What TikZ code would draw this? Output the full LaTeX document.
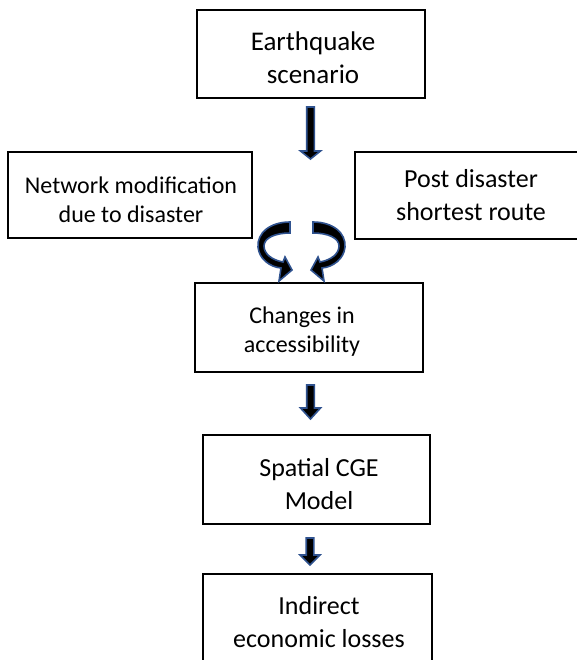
\documentclass[tikz,border=0pt]{standalone}
\usepackage{fontspec}
\setmainfont{Carlito}
\usetikzlibrary{calc}
\definecolor{arrblue}{RGB}{47,82,143}
\tikzset{
 box/.style={draw=black, line width=2.2pt, fill=white, inner sep=0pt, outer sep=0pt},
 big/.style={font=\fontsize{26}{33}\selectfont, align=center, inner sep=0pt},
 small/.style={font=\fontsize{24}{29}\selectfont, align=center, inner sep=0pt},
 barrow/.style={fill=black, draw=arrblue, line width=1.6pt, line join=miter},
}
\newcommand\blockarrow[3]{%
 \path[barrow] let \p1=(#1), \p2=(#2) in
 (\x1-3.8pt,\y1) -- (\x1+3.8pt,\y1) -- (\x1+3.8pt,\y2+#3) -- (\x1+10pt,\y2+#3) -- (\x2,\y2)
 -- (\x1-10pt,\y2+#3) -- (\x1-3.8pt,\y2+#3) -- cycle;}
\begin{document}
\begin{tikzpicture}[x=1pt,y=-1pt]
\useasboundingbox (0,0) rectangle (577,660);
\clip (0,0) rectangle (577,660);
\fill[white] (0,0) rectangle (577,660);
% boxes
\node[box, minimum width=228pt, minimum height=88pt] (eq) at (311,54) {};
\node[box, minimum width=244pt, minimum height=86pt] (net) at (130,195) {};
\node[box, minimum width=230pt, minimum height=87pt] (post) at (470,195.5) {};
\node[box, minimum width=228pt, minimum height=89pt] (chg) at (309,327.5) {};
\node[box, minimum width=227pt, minimum height=89pt] (cge) at (316.5,479.5) {};
\node[box, minimum width=229pt, minimum height=106pt] (loss) at (317.5,627) {};
% texts
\node[big, font=\fontsize{27}{33}\selectfont] (eqt) at (313,57.4) {Earthquake\\scenario};
\node[small] (nett) at (131,200) {Network modification\\due to disaster};
\node[big] (postt) at (471,195) {Post disaster\\shortest route};
\node[small] (chgt) at (302,331.5) {Changes in\\accessibility};
\node[big] (cget) at (319,484.4) {Spatial CGE\\Model};
\node[big] (losst) at (319,622.4) {Indirect\\economic losses};
% straight block arrows
\coordinate (a1s) at (310.5,107);
\coordinate (a1e) at (310.5,159);
\coordinate (a2s) at (310.5,385);
\coordinate (a2e) at (310.5,419);
\coordinate (a3s) at (310,538);
\coordinate (a3e) at (310,565);
\blockarrow{a1s}{a1e}{8pt}
\blockarrow{a2s}{a2e}{11pt}
\blockarrow{a3s}{a3e}{10pt}
% curved arrows
\path[barrow] (290,222) .. controls (270,222) and (257,233) .. (258,247)
 .. controls (259,259) and (270,267) .. (281,268) -- (279,281) -- (292,270) -- (285,257) -- (283,262)
 .. controls (272,260) and (264,254) .. (264,246) .. controls (264,238) and (275,233) .. (290,233) -- cycle;
\path[barrow] (313,222) .. controls (333,222) and (346,233) .. (345,247)
 .. controls (344,259) and (333,267) .. (322,268) -- (324,281) -- (311,270) -- (318,257) -- (320,262)
 .. controls (331,260) and (339,254) .. (339,246) .. controls (339,238) and (328,233) .. (313,233) -- cycle;
\end{tikzpicture}
\end{document}
